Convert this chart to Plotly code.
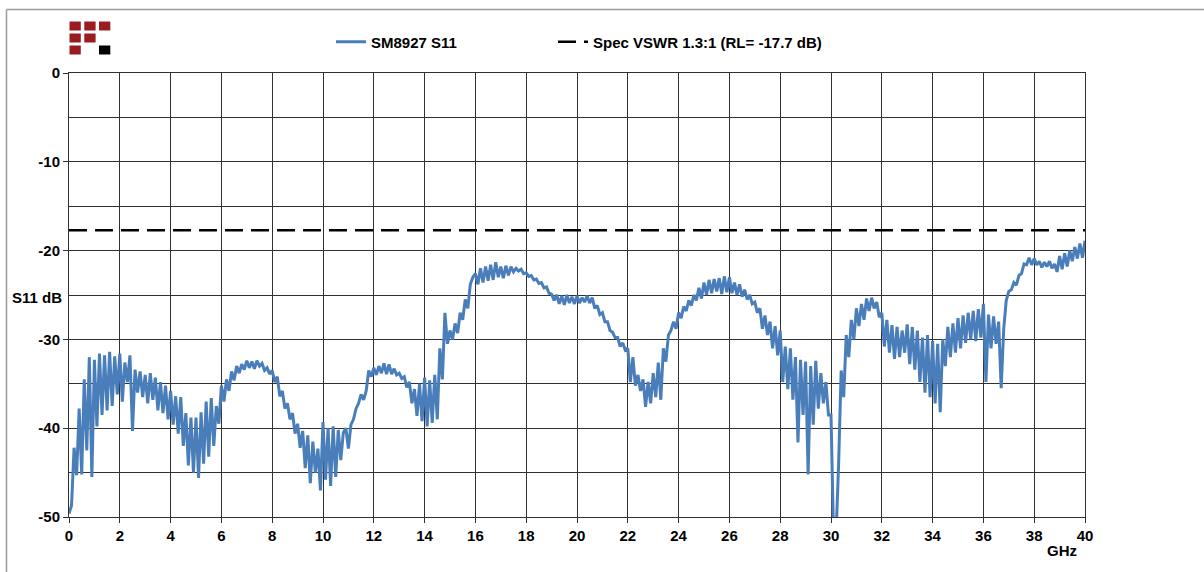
import plotly.graph_objects as go

s11_00_10 = [
    -49.6, -48.7, -42.2, -45.3, -37.8, -45.2, -34.5, -42.5, -32.0, -45.5,
    -32.3, -39.8, -31.6, -38.5, -31.8, -38.0, -31.4, -37.5, -31.9, -36.2,
    -31.6, -37.0, -32.6, -34.8, -31.8, -40.3, -33.4, -36.0, -33.6, -36.5,
    -34.0, -37.2, -33.8, -36.8, -34.3, -38.0, -34.8, -38.3, -35.2, -39.0,
    -35.8, -39.6, -36.4, -40.6, -36.5, -42.0, -38.3, -44.2, -38.8, -45.0,
    -38.8, -45.6, -38.2, -44.0, -37.0, -43.2, -36.6, -42.0, -37.5, -39.5,
    -35.2, -37.0, -34.5, -35.8, -33.6, -34.6, -33.0, -33.8, -32.8, -33.4,
    -32.4, -33.2, -32.5, -33.3, -32.4, -33.0, -32.7, -33.5, -33.2, -33.9,
    -33.5, -34.8, -34.2, -36.4, -35.8, -37.8, -37.2, -39.0, -38.3, -40.6,
    -39.5, -42.2, -40.3, -44.5, -40.8, -46.2, -41.5, -45.0, -42.3, -47.0,
]
s11_10_20 = [
    -39.3, -45.8, -40.0, -46.5, -39.8, -45.5, -40.2, -43.6, -40.5, -40.0,
    -42.3, -39.6, -39.0, -37.8, -37.2, -36.2, -36.8, -35.8, -33.5, -34.2,
    -33.2, -34.0, -33.0, -33.8, -32.7, -33.9, -32.8, -33.9, -33.3, -34.0,
    -33.8, -34.4, -34.2, -35.4, -34.8, -37.2, -35.6, -38.6, -35.0, -39.2,
    -34.3, -39.8, -34.6, -39.4, -34.0, -39.0, -31.0, -34.5, -27.0, -30.5,
    -29.0, -30.0, -28.2, -29.3, -27.0, -27.8, -25.5, -26.5, -23.8, -23.0,
    -22.6, -23.8, -22.0, -23.6, -21.8, -23.4, -21.6, -23.3, -21.3, -23.0,
    -21.8, -23.1, -21.7, -22.8, -21.8, -22.4, -22.0, -22.3, -22.1, -22.6,
    -22.5, -22.9, -22.8, -23.3, -23.2, -23.7, -23.6, -24.2, -24.1, -24.8,
    -24.9, -25.6, -25.0, -26.0, -25.1, -26.1, -25.0, -25.9, -25.2, -26.0,
]
s11_20_30 = [
    -25.1, -25.9, -25.3, -25.8, -25.1, -25.9, -25.3, -26.5, -26.2, -27.2,
    -27.0, -28.0, -28.0, -29.0, -29.2, -29.8, -29.8, -30.8, -30.4, -31.2,
    -31.0, -34.8, -32.0, -35.2, -34.0, -35.8, -34.5, -37.6, -34.8, -37.2,
    -33.8, -36.5, -32.6, -36.8, -31.0, -32.5, -29.5, -29.0, -28.0, -28.8,
    -27.0, -27.6, -26.3, -26.8, -25.6, -26.2, -25.0, -25.6, -24.2, -25.4,
    -23.6, -25.0, -23.3, -24.8, -23.2, -24.6, -23.1, -24.9, -22.9, -24.7,
    -23.0, -24.8, -23.6, -25.0, -23.8, -25.2, -24.4, -25.5, -25.0, -26.0,
    -25.8, -27.0, -26.5, -28.8, -27.3, -29.5, -28.0, -31.0, -28.5, -31.8,
    -29.0, -34.8, -30.8, -35.6, -31.0, -36.8, -32.0, -41.6, -32.3, -38.5,
    -32.5, -45.2, -33.0, -39.6, -32.4, -37.8, -33.8, -37.2, -34.8, -38.5,
]
s11_30_40 = [
    -38.5, -52.0, -52.0, -44.0, -33.5, -36.5, -29.5, -32.0, -27.8, -30.0,
    -26.5, -28.5, -26.0, -27.8, -25.4, -26.8, -25.3, -26.5, -25.8, -27.5,
    -27.0, -30.8, -27.8, -31.5, -28.4, -32.2, -28.6, -32.0, -29.0, -31.5,
    -28.3, -32.8, -28.6, -33.4, -29.0, -34.8, -29.8, -36.0, -29.5, -36.5,
    -30.2, -37.2, -30.5, -38.2, -30.0, -33.0, -28.6, -32.0, -28.2, -31.5,
    -27.6, -31.0, -27.3, -30.4, -27.0, -30.0, -26.8, -30.2, -26.6, -29.8,
    -26.0, -34.8, -27.2, -31.0, -27.4, -30.5, -28.0, -35.5, -28.8, -25.6,
    -24.6, -24.4, -23.6, -23.9, -22.8, -22.6, -21.5, -21.6, -20.8, -21.6,
    -20.9, -21.6, -21.2, -21.9, -21.3, -21.8, -21.2, -22.0, -21.5, -22.4,
    -20.6, -22.1, -20.3, -21.8, -20.0, -21.2, -19.6, -20.9, -19.2, -20.8,
    -18.9,
]
s11 = s11_00_10 + s11_10_20 + s11_20_30 + s11_30_40
freq_step_ghz = 0.1
freq = [round(i * freq_step_ghz, 1) for i in range(len(s11))]

spec_x = [0, 40]
spec_y = [-17.7, -17.7]

x_ticks = list(range(0, 41, 2))
y_ticks = [0, -10, -20, -30, -40, -50]

series_name = "SM8927 S11"
spec_name = "Spec VSWR 1.3:1 (RL= -17.7 dB)"

W, H = 1204, 572
L, R, T, B = 69, 119, 73, 55
PW, PH = W - L - R, H - T - B

def px(x):
    return (x - L) / PW

def py(y):
    return (H - B - y) / PH

FONT = "Liberation Sans, Arial, sans-serif"
FS = 15
GRID = "#303030"

fig = go.Figure()
fig.add_trace(go.Scatter(
    x=freq, y=s11, mode="lines", name=series_name, legend="legend",
    line=dict(color="rgb(74,126,187)", width=3),
))
fig.add_trace(go.Scatter(
    x=spec_x, y=spec_y, mode="lines", name=spec_name, legend="legend2",
    line=dict(color="black", width=2.5, dash="18px,8px"),
))

shapes = []
# outer chart border (gray)
shapes.append(dict(type="line", xref="paper", yref="paper",
                   x0=px(6.5), x1=px(1210), y0=py(9.5), y1=py(9.5),
                   line=dict(color="#9a9a9a", width=1.5)))
shapes.append(dict(type="line", xref="paper", yref="paper",
                   x0=px(6.5), x1=px(6.5), y0=py(9.5), y1=py(580),
                   line=dict(color="#9a9a9a", width=1.5)))
# logo squares
red = "#9b1c20"
logo = [
    (69.5, 21.5, red), (84.3, 21.5, red), (99, 21.5, red),
    (69.5, 33.5, red), (84.3, 33.5, red),
    (69.5, 45.5, red), (99, 45.5, "#000000"),
]
for (lx, ly, c) in logo:
    shapes.append(dict(type="rect", xref="paper", yref="paper",
                       x0=px(lx), x1=px(lx + 11.3), y0=py(ly), y1=py(ly + 9),
                       line=dict(width=0), fillcolor=c))

legend_font = dict(family=FONT, size=FS, color="black", weight="bold")
fig.update_layout(
    width=W, height=H,
    margin=dict(l=L, r=R, t=T, b=B),
    paper_bgcolor="white", plot_bgcolor="white",
    font=dict(family=FONT, size=FS, color="black", weight="bold"),
    showlegend=True,
    legend=dict(orientation="h", x=px(331), y=py(42), xanchor="left", yanchor="middle",
                font=legend_font, bgcolor="rgba(0,0,0,0)"),
    legend2=dict(orientation="h", x=px(553), y=py(42), xanchor="left", yanchor="middle",
                 font=legend_font, bgcolor="rgba(0,0,0,0)"),
    shapes=shapes,
    annotations=[
        dict(text="S11 dB", xref="paper", yref="paper", x=px(37), y=py(297),
             xanchor="center", yanchor="middle", showarrow=False,
             font=dict(family=FONT, size=FS, color="black", weight="bold")),
        dict(text="GHz", xref="paper", yref="paper", x=px(1062), y=py(550),
             xanchor="center", yanchor="middle", showarrow=False,
             font=dict(family=FONT, size=FS, color="black", weight="bold")),
    ],
)
fig.update_xaxes(
    range=[0, 40], tickvals=x_ticks, ticktext=[str(v) for v in x_ticks],
    showgrid=True, gridcolor=GRID, gridwidth=1,
    showline=True, linecolor=GRID, linewidth=1, mirror=True,
    ticks="outside", ticklen=5, tickcolor=GRID, zeroline=False,
    tickfont=dict(family=FONT, size=FS, color="black", weight="bold"),
)
fig.update_yaxes(
    range=[-50, 0], tickvals=y_ticks, ticktext=[str(v) for v in y_ticks],
    showgrid=True, gridcolor=GRID, gridwidth=1,
    minor=dict(dtick=5, showgrid=True, gridcolor=GRID, gridwidth=1, ticks=""),
    showline=True, linecolor=GRID, linewidth=1, mirror=True,
    ticks="outside", ticklen=5, tickcolor=GRID, zeroline=False,
    tickfont=dict(family=FONT, size=FS, color="black", weight="bold"),
)

fig.write_html("out.html", config={"displayModeBar": False},
               post_script="document.body.style.margin='0';")
